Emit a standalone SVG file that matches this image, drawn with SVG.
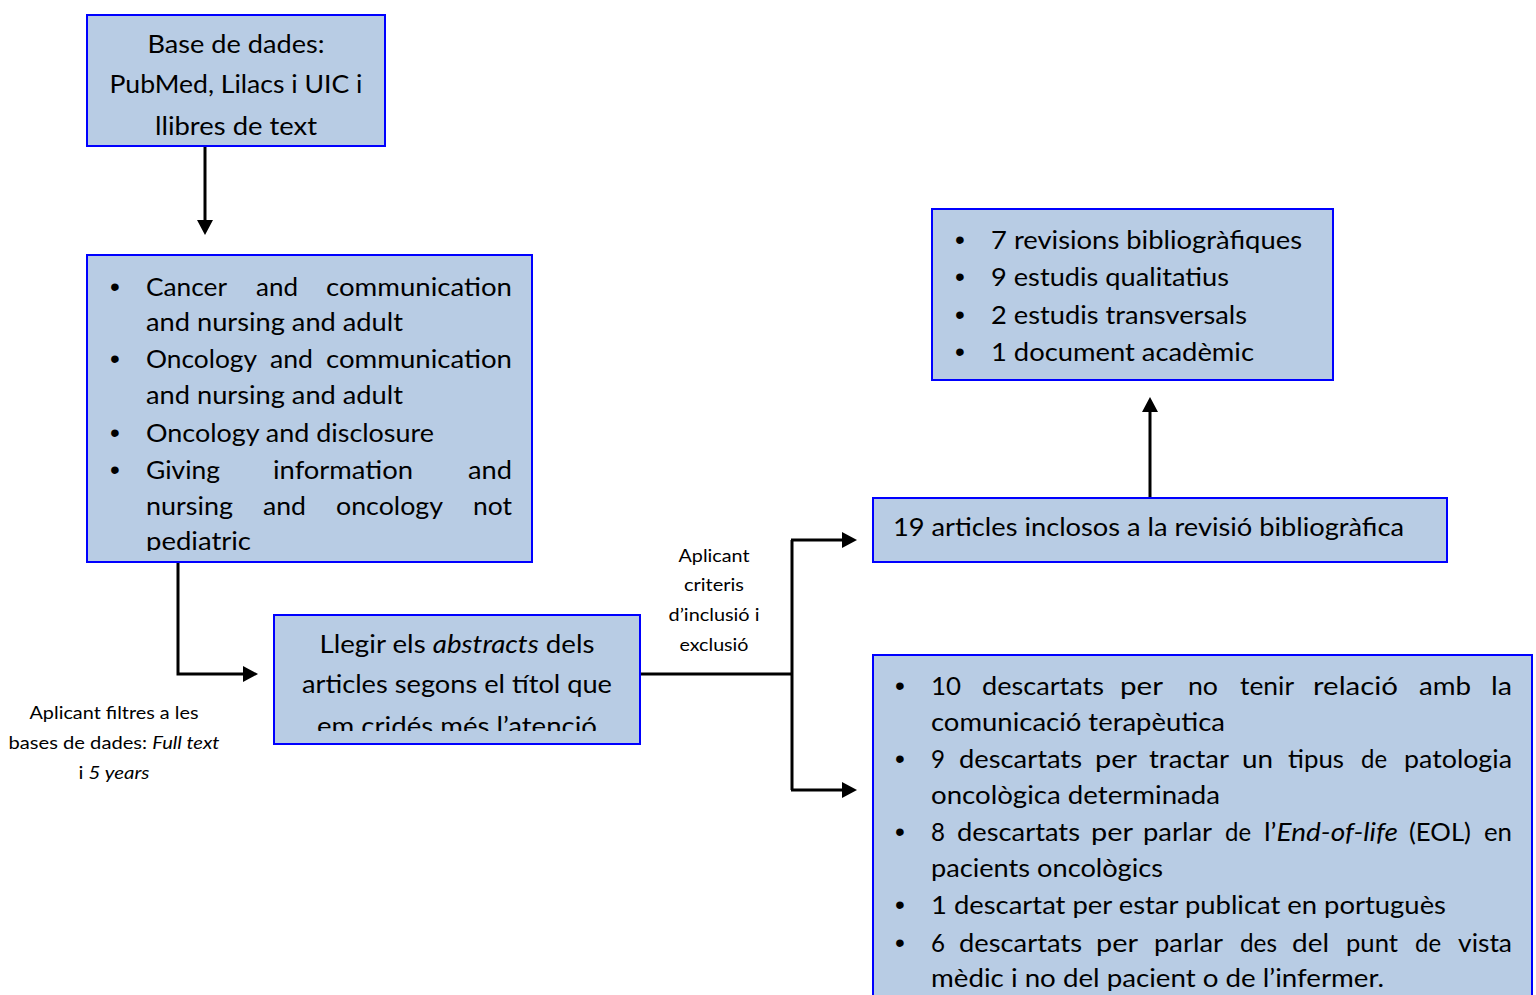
<svg xmlns="http://www.w3.org/2000/svg" width="1536" height="995" viewBox="0 0 1536 995">
<style>
.box{fill:#B8CCE4;stroke:#0000FF;stroke-width:2}
.t{font-family:Lato,"Open Sans","Liberation Sans",sans-serif;font-size:25px;fill:#000}
.s{font-family:Lato,"Open Sans","Liberation Sans",sans-serif;font-size:18px;fill:#000}
.m{text-anchor:middle}
.i{font-style:italic}
.b{font-family:"Liberation Sans",Arial,sans-serif;font-size:28px;text-anchor:middle}
.c{fill:none;stroke:#000;stroke-width:3}
</style>
<defs>
<marker id="ah" markerUnits="userSpaceOnUse" markerWidth="16" markerHeight="16" viewBox="0 0 16 16" refX="1" refY="8" orient="auto">
<path d="M0,0 L15,8 L0,16 z" fill="#000"/>
</marker>
<clipPath id="clip2"><rect x="87" y="255" width="446" height="296"/></clipPath>
<clipPath id="clip3"><rect x="274" y="615" width="366" height="116"/></clipPath>
</defs>
<rect width="1536" height="995" fill="#fff"/>

<g id="connectors">
<path class="c" d="M205,146 V221" marker-end="url(#ah)"/>
<path class="c" d="M178,562 V674 H244" marker-end="url(#ah)"/>
<path class="c" d="M640,674 H792"/>
<path class="c" d="M792,540 V790"/>
<path class="c" d="M791,540 H843" marker-end="url(#ah)"/>
<path class="c" d="M791,790 H843" marker-end="url(#ah)"/>
<path class="c" d="M1150,498 V411" marker-end="url(#ah)"/>
</g>

<g id="node-bases">
<rect class="box" x="87" y="15" width="298" height="131"/>
<text class="t m" x="236" y="53" textLength="177" lengthAdjust="spacingAndGlyphs">Base de dades:</text>
<text class="t m" x="236" y="93" textLength="253" lengthAdjust="spacingAndGlyphs">PubMed, Lilacs i UIC i</text>
<text class="t m" x="236" y="135" textLength="162" lengthAdjust="spacingAndGlyphs">llibres de text</text>
</g>

<g id="node-cerques">
<rect class="box" x="87" y="255" width="445" height="307"/>
<g clip-path="url(#clip2)">
<text class="b" x="115" y="296">•</text>
<text class="b" x="115" y="368">•</text>
<text class="b" x="115" y="442">•</text>
<text class="b" x="115" y="479">•</text>
<text class="t" x="146" y="296" textLength="81" lengthAdjust="spacingAndGlyphs">Cancer</text>
<text class="t" x="256" y="296" textLength="42" lengthAdjust="spacingAndGlyphs">and</text>
<text class="t" x="326" y="296" textLength="186" lengthAdjust="spacingAndGlyphs">communication</text>
<text class="t" x="146" y="331" textLength="257" lengthAdjust="spacingAndGlyphs">and nursing and adult</text>
<text class="t" x="146" y="368" textLength="111" lengthAdjust="spacingAndGlyphs">Oncology</text>
<text class="t" x="270" y="368" textLength="43" lengthAdjust="spacingAndGlyphs">and</text>
<text class="t" x="326" y="368" textLength="186" lengthAdjust="spacingAndGlyphs">communication</text>
<text class="t" x="146" y="404" textLength="257" lengthAdjust="spacingAndGlyphs">and nursing and adult</text>
<text class="t" x="146" y="442" textLength="288" lengthAdjust="spacingAndGlyphs">Oncology and disclosure</text>
<text class="t" x="146" y="479" textLength="74" lengthAdjust="spacingAndGlyphs">Giving</text>
<text class="t" x="273" y="479" textLength="140" lengthAdjust="spacingAndGlyphs">information</text>
<text class="t" x="468" y="479" textLength="44" lengthAdjust="spacingAndGlyphs">and</text>
<text class="t" x="146" y="515" textLength="87" lengthAdjust="spacingAndGlyphs">nursing</text>
<text class="t" x="263" y="515" textLength="43" lengthAdjust="spacingAndGlyphs">and</text>
<text class="t" x="336" y="515" textLength="107" lengthAdjust="spacingAndGlyphs">oncology</text>
<text class="t" x="473" y="515" textLength="39" lengthAdjust="spacingAndGlyphs">not</text>
<text class="t" x="146" y="550" textLength="105" lengthAdjust="spacingAndGlyphs">pediatric</text>
</g>
</g>

<g id="label-filtres">
<text class="s m" x="114" y="719" textLength="169" lengthAdjust="spacingAndGlyphs">Aplicant filtres a les</text>
<text class="s m" x="114" y="749" textLength="211" lengthAdjust="spacingAndGlyphs">bases de dades: <tspan class="i">Full text</tspan></text>
<text class="s m" x="114" y="779" textLength="71" lengthAdjust="spacingAndGlyphs">i <tspan class="i">5 years</tspan></text>
</g>

<g id="node-abstracts">
<rect class="box" x="274" y="615" width="366" height="129"/>
<g clip-path="url(#clip3)">
<text class="t m" x="457" y="653" textLength="275" lengthAdjust="spacingAndGlyphs">Llegir els <tspan class="i">abstracts</tspan> dels</text>
<text class="t m" x="457" y="693" textLength="310" lengthAdjust="spacingAndGlyphs">articles segons el títol que</text>
<text class="t m" x="457" y="735" textLength="280" lengthAdjust="spacingAndGlyphs">em cridés més l’atenció</text>
</g>
</g>

<g id="label-criteris">
<text class="s m" x="714" y="562" textLength="71" lengthAdjust="spacingAndGlyphs">Aplicant</text>
<text class="s m" x="714" y="591" textLength="60" lengthAdjust="spacingAndGlyphs">criteris</text>
<text class="s m" x="714" y="621" textLength="91" lengthAdjust="spacingAndGlyphs">d’inclusió i</text>
<text class="s m" x="714" y="651" textLength="69" lengthAdjust="spacingAndGlyphs">exclusió</text>
</g>

<g id="node-inclosos">
<rect class="box" x="873" y="498" width="574" height="64"/>
<text class="t" x="893" y="536" textLength="511" lengthAdjust="spacingAndGlyphs">19 articles inclosos a la revisió bibliogràfica</text>
</g>

<g id="node-tipus">
<rect class="box" x="932" y="209" width="401" height="171"/>
<text class="b" x="960" y="249">•</text>
<text class="b" x="960" y="286">•</text>
<text class="b" x="960" y="324">•</text>
<text class="b" x="960" y="361">•</text>
<text class="t" x="991" y="249" textLength="311" lengthAdjust="spacingAndGlyphs">7 revisions bibliogràfiques</text>
<text class="t" x="991" y="286" textLength="238" lengthAdjust="spacingAndGlyphs">9 estudis qualitatius</text>
<text class="t" x="991" y="324" textLength="256" lengthAdjust="spacingAndGlyphs">2 estudis transversals</text>
<text class="t" x="991" y="361" textLength="263" lengthAdjust="spacingAndGlyphs">1 document acadèmic</text>
</g>

<g id="node-descartats">
<rect class="box" x="873" y="655" width="659" height="350"/>
<text class="b" x="900" y="695">•</text>
<text class="b" x="900" y="768">•</text>
<text class="b" x="900" y="841">•</text>
<text class="b" x="900" y="914">•</text>
<text class="b" x="900" y="952">•</text>
<text class="t" x="931" y="695" textLength="30" lengthAdjust="spacingAndGlyphs">10</text>
<text class="t" x="982" y="695" textLength="122" lengthAdjust="spacingAndGlyphs">descartats</text>
<text class="t" x="1120" y="695" textLength="43" lengthAdjust="spacingAndGlyphs">per</text>
<text class="t" x="1188" y="695" textLength="30" lengthAdjust="spacingAndGlyphs">no</text>
<text class="t" x="1240" y="695" textLength="54" lengthAdjust="spacingAndGlyphs">tenir</text>
<text class="t" x="1313" y="695" textLength="85" lengthAdjust="spacingAndGlyphs">relació</text>
<text class="t" x="1419" y="695" textLength="52" lengthAdjust="spacingAndGlyphs">amb</text>
<text class="t" x="1491" y="695" textLength="21" lengthAdjust="spacingAndGlyphs">la</text>
<text class="t" x="931" y="731" textLength="294" lengthAdjust="spacingAndGlyphs">comunicació terapèutica</text>
<text class="t" x="931" y="768" textLength="14" lengthAdjust="spacingAndGlyphs">9</text>
<text class="t" x="959" y="768" textLength="123" lengthAdjust="spacingAndGlyphs">descartats</text>
<text class="t" x="1095" y="768" textLength="42" lengthAdjust="spacingAndGlyphs">per</text>
<text class="t" x="1149" y="768" textLength="80" lengthAdjust="spacingAndGlyphs">tractar</text>
<text class="t" x="1242" y="768" textLength="31" lengthAdjust="spacingAndGlyphs">un</text>
<text class="t" x="1288" y="768" textLength="56" lengthAdjust="spacingAndGlyphs">tipus</text>
<text class="t" x="1361" y="768" textLength="26" lengthAdjust="spacingAndGlyphs">de</text>
<text class="t" x="1404" y="768" textLength="108" lengthAdjust="spacingAndGlyphs">patologia</text>
<text class="t" x="931" y="804" textLength="289" lengthAdjust="spacingAndGlyphs">oncològica determinada</text>
<text class="t" x="931" y="841" textLength="14" lengthAdjust="spacingAndGlyphs">8</text>
<text class="t" x="957" y="841" textLength="123" lengthAdjust="spacingAndGlyphs">descartats</text>
<text class="t" x="1091" y="841" textLength="42" lengthAdjust="spacingAndGlyphs">per</text>
<text class="t" x="1143" y="841" textLength="69" lengthAdjust="spacingAndGlyphs">parlar</text>
<text class="t" x="1225" y="841" textLength="26" lengthAdjust="spacingAndGlyphs">de</text>
<text class="t" x="1264" y="841" textLength="134" lengthAdjust="spacingAndGlyphs">l’<tspan class="i">End-of-life</tspan></text>
<text class="t" x="1409" y="841" textLength="62" lengthAdjust="spacingAndGlyphs">(EOL)</text>
<text class="t" x="1484" y="841" textLength="28" lengthAdjust="spacingAndGlyphs">en</text>
<text class="t" x="931" y="877" textLength="232" lengthAdjust="spacingAndGlyphs">pacients oncològics</text>
<text class="t" x="931" y="914" textLength="515" lengthAdjust="spacingAndGlyphs">1 descartat per estar publicat en portuguès</text>
<text class="t" x="931" y="952" textLength="14" lengthAdjust="spacingAndGlyphs">6</text>
<text class="t" x="959" y="952" textLength="123" lengthAdjust="spacingAndGlyphs">descartats</text>
<text class="t" x="1096" y="952" textLength="42" lengthAdjust="spacingAndGlyphs">per</text>
<text class="t" x="1154" y="952" textLength="69" lengthAdjust="spacingAndGlyphs">parlar</text>
<text class="t" x="1240" y="952" textLength="37" lengthAdjust="spacingAndGlyphs">des</text>
<text class="t" x="1292" y="952" textLength="37" lengthAdjust="spacingAndGlyphs">del</text>
<text class="t" x="1346" y="952" textLength="52" lengthAdjust="spacingAndGlyphs">punt</text>
<text class="t" x="1415" y="952" textLength="26" lengthAdjust="spacingAndGlyphs">de</text>
<text class="t" x="1458" y="952" textLength="54" lengthAdjust="spacingAndGlyphs">vista</text>
<text class="t" x="931" y="987" textLength="453" lengthAdjust="spacingAndGlyphs">mèdic i no del pacient o de l’infermer.</text>
</g>
</svg>
